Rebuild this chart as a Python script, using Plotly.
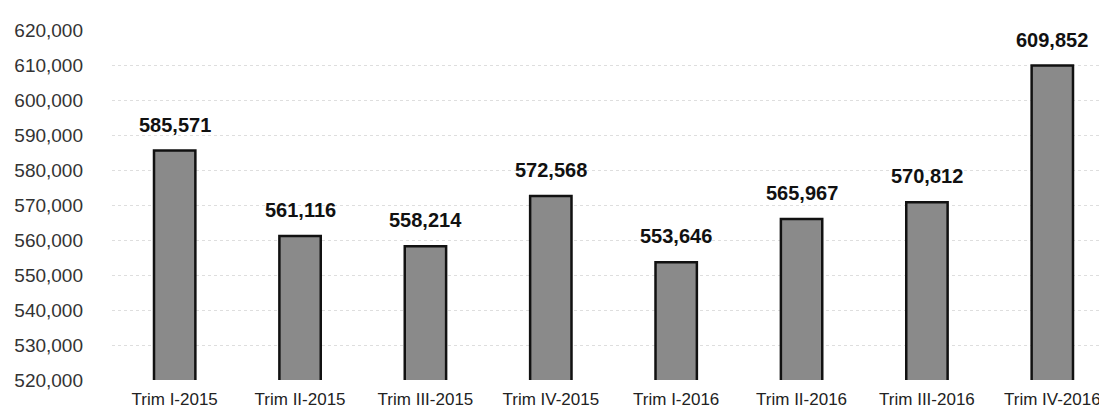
import plotly.graph_objects as go

# quarterly values
quarters = ["Trim I-2015", "Trim II-2015", "Trim III-2015", "Trim IV-2015",
            "Trim I-2016", "Trim II-2016", "Trim III-2016", "Trim IV-2016"]
values = [585571, 561116, 558214, 572568, 553646, 565967, 570812, 609852]

y_ticks = list(range(520000, 620001, 10000))

font_family = "Liberation Sans, Arial, sans-serif"

fig = go.Figure()
fig.add_trace(go.Bar(
    x=quarters, y=values,
    marker=dict(color="#8a8a8a", line=dict(color="#111111", width=2.5)),
    width=0.33,
    hoverinfo="x+y",
))

# value labels sit a bit higher above the bars than plotly's outside text
for q, v in zip(quarters, values):
    fig.add_annotation(
        x=q, y=v, text=f"{v:,}", showarrow=False,
        yanchor="bottom", yshift=13,
        font=dict(family=font_family, size=20, color="#111111", weight="bold"),
    )

fig.update_layout(
    width=1107, height=418,
    plot_bgcolor="white", paper_bgcolor="white",
    margin=dict(l=104, r=0, t=22, b=46),
    showlegend=False,
    font=dict(family=font_family, color="#222222"),
    xaxis=dict(
        showline=False, showgrid=False, ticks="",
        tickfont=dict(size=17, color="#222222"),
        ticklabelstandoff=7,
    ),
    yaxis=dict(
        range=[520000, 620000], tickvals=y_ticks, tickformat=",d",
        showline=False, zeroline=False,
        showgrid=True, gridcolor="#dedede", griddash="dot", gridwidth=1,
        tickfont=dict(size=19, color="#333333"),
        ticklabelstandoff=28,
    ),
)

fig.write_html("out.html")
